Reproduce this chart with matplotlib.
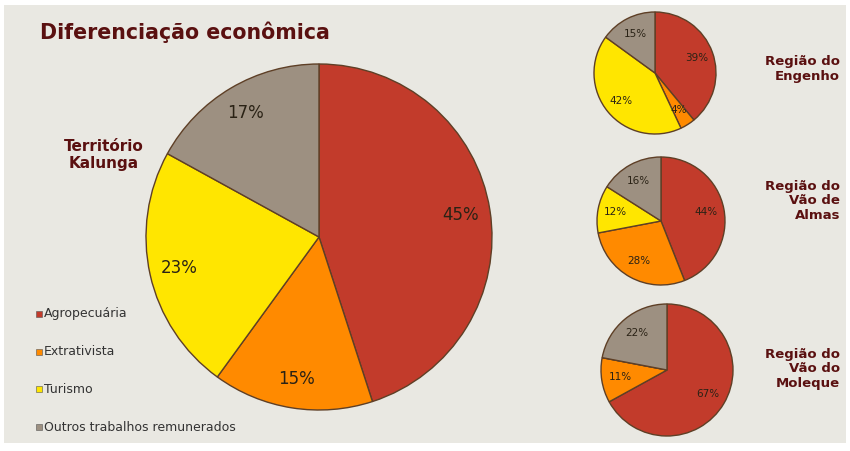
import matplotlib
matplotlib.use("Agg")
import matplotlib.pyplot as plt
from matplotlib.patches import Rectangle

# ---- data ----
categories = ["Agropecuária", "Extrativista", "Turismo", "Outros trabalhos remunerados"]
colors = ["#c23b2b", "#ff8a00", "#ffe600", "#9d9081"]

kalunga = [45, 15, 23, 17]
engenho = [39, 4, 42, 15]
almas = [44, 28, 12, 16]
moleque = [67, 11, 0, 22]

title = "Diferenciação econômica"
main_label = "Território\nKalunga"
region_labels = ["Região do\nEngenho", "Região do\nVão de\nAlmas", "Região do\nVão do\nMoleque"]

W, H = 850, 451
fig = plt.figure(figsize=(W / 100, H / 100), dpi=100)
fig.patch.set_facecolor("white")
bg = Rectangle((4 / W, 8 / H), (W - 8) / W, (H - 13) / H,
               transform=fig.transFigure, facecolor="#e9e8e2",
               edgecolor="none", zorder=-5)
fig.patches.append(bg)

DARK = "#5a1010"
EDGE = "#5e3f26"


def pie_at(cx, cy, r, values, fs, pctd):
    ax = fig.add_axes([(cx - r) / W, 1 - (cy + r) / H, 2 * r / W, 2 * r / H])
    ax.set_zorder(2)
    wedges, texts, autotexts = ax.pie(
        values, colors=colors, startangle=90, counterclock=False, radius=1.0,
        autopct=lambda p: f"{p:.0f}%" if p > 0.5 else "",
        pctdistance=pctd,
        wedgeprops=dict(edgecolor=EDGE, linewidth=1.0),
        textprops=dict(fontsize=fs, color="#2a2215"))
    ax.set_xlim(-1.0, 1.0)
    ax.set_ylim(-1.0, 1.0)
    ax.set_aspect("equal")
    ax.axis("off")
    for w in wedges:
        w.set_clip_on(False)
    return ax


pie_at(319, 237, 173, kalunga, 12, 0.83)
pie_at(655, 73, 61, engenho, 7.5, 0.72)
pie_at(661, 221, 64, almas, 7.5, 0.72)
pie_at(667, 370, 66, moleque, 7.5, 0.72)

# title
fig.text(40 / W, 1 - 32 / H, title, fontsize=14.8, color=DARK, fontweight="bold",
         ha="left", va="center")
fig.text(104 / W, 1 - 155 / H, main_label, fontsize=11, color=DARK, fontweight="bold",
         ha="center", va="center", linespacing=1.1)

for lbl, y in zip(region_labels, [69, 201, 369]):
    fig.text(840 / W, 1 - y / H, lbl, fontsize=9.5, color=DARK, fontweight="bold",
             ha="right", va="center", linespacing=1.15)

# legend
for i, (cat, col) in enumerate(zip(categories, colors)):
    y = 314 + i * 37.7
    fig.patches.append(Rectangle((36 / W, 1 - (y + 3) / H), 6 / W, 6 / H,
                                 transform=fig.transFigure, facecolor=col,
                                 edgecolor="#555555", linewidth=0.4, zorder=1))
    fig.text(44 / W, 1 - y / H, cat, fontsize=9, color="#333333",
             ha="left", va="center")

fig.savefig("out.png", dpi=100, facecolor=fig.get_facecolor())
